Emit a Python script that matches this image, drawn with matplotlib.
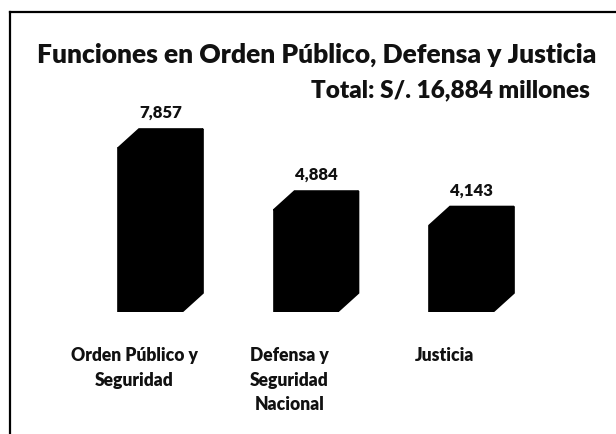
import matplotlib
matplotlib.use("Agg")
import matplotlib.pyplot as plt
from matplotlib.patches import Polygon
from matplotlib.lines import Line2D

# ---- data ----
categories = ["Orden Público y\nSeguridad", "Defensa y\nSeguridad\nNacional", "Justicia"]
values = [7857, 4884, 4143]
value_labels = ["7,857", "4,884", "4,143"]
title = "Funciones en Orden Público, Defensa y Justicia"
subtitle = "Total: S/. 16,884 millones"

W, H = 616, 435
FONT = "Lato"
WEIGHT = "heavy"
plt.rcParams["font.family"] = [FONT, "DejaVu Sans"]

fig = plt.figure(figsize=(W / 100, H / 100), dpi=100)
fig.patch.set_facecolor("white")

def fx(px):
    return px / W

def fy(py):
    return 1 - py / H

renderer = fig.canvas.get_renderer()

def fit(t, target_w):
    t.set_fontsize(10)
    w = t.get_window_extent(renderer).width
    t.set_fontsize(10 * target_w / w)
    return t.get_fontsize()

# frame (top and left edges only)
fig.add_artist(Line2D([fx(10), fx(616)], [fy(13), fy(13)], color="black", lw=1.6))
fig.add_artist(Line2D([fx(10), fx(10)], [fy(13), fy(434)], color="black", lw=1.6))

# titles
t1 = fig.text(fx(37), fy(63), title, ha="left", va="baseline", fontweight=WEIGHT, color="#111111")
fit(t1, 563)
t2 = fig.text(fx(590), fy(97), subtitle, ha="right", va="baseline", fontweight=WEIGHT, color="#111111")
fit(t2, 281)

# bar axes
ax_left, ax_right = 60, 560
base_py, top_py = 313, 100
ax = fig.add_axes([fx(ax_left), fy(base_py), fx(ax_right - ax_left), (base_py - top_py) / H])
ax.set_axis_off()
px_per_x = 155.5
x0_px = 150
xs = list(range(len(values)))
ax.set_xlim((ax_left - x0_px) / px_per_x, (ax_right - x0_px) / px_per_x)
px_per_val = 164 / values[0]
ax.set_ylim(0, (base_py - top_py) / px_per_val)

bw = 64 / px_per_x
dxd = 21 / px_per_x
dyd = 19 / px_per_val

ax.bar(xs, values, width=bw, color="black", edgecolor="black", linewidth=1.2)
for x, v in zip(xs, values):
    l, r = x - bw / 2, x + bw / 2
    top = Polygon([(l, v), (l + dxd, v + dyd), (r + dxd, v + dyd), (r, v)],
                  closed=True, facecolor="black", edgecolor="black", lw=1.2)
    side = Polygon([(r, 0), (r + dxd, dyd), (r + dxd, v + dyd), (r, v)],
                   closed=True, facecolor="black", edgecolor="black", lw=1.2)
    ax.add_patch(top)
    ax.add_patch(side)

# value labels
vs = []
for x, v, lab in zip(xs, values, value_labels):
    a = ax.annotate(lab, (x + dxd / 2, v + dyd), xytext=(0, 17), textcoords="offset pixels",
                    ha="center", va="center", fontweight=WEIGHT, color="#111111")
    vs.append(a)
vsize = fit(vs[1], 43)
for a in vs:
    a.set_fontsize(vsize)

# category labels
cs = []
for x, c in zip(xs, categories):
    t = ax.annotate(c, (x, 0), xytext=(-16, -34), textcoords="offset pixels",
                    ha="center", va="top", fontweight=WEIGHT, color="#111111",
                    multialignment="center", linespacing=1.55)
    cs.append(t)
cs[0].set_text("Orden Público y")
csize = fit(cs[0], 128)
cs[0].set_text(categories[0])
for t in cs:
    t.set_fontsize(csize)

fig.savefig("out.png", dpi=100, facecolor="white")
